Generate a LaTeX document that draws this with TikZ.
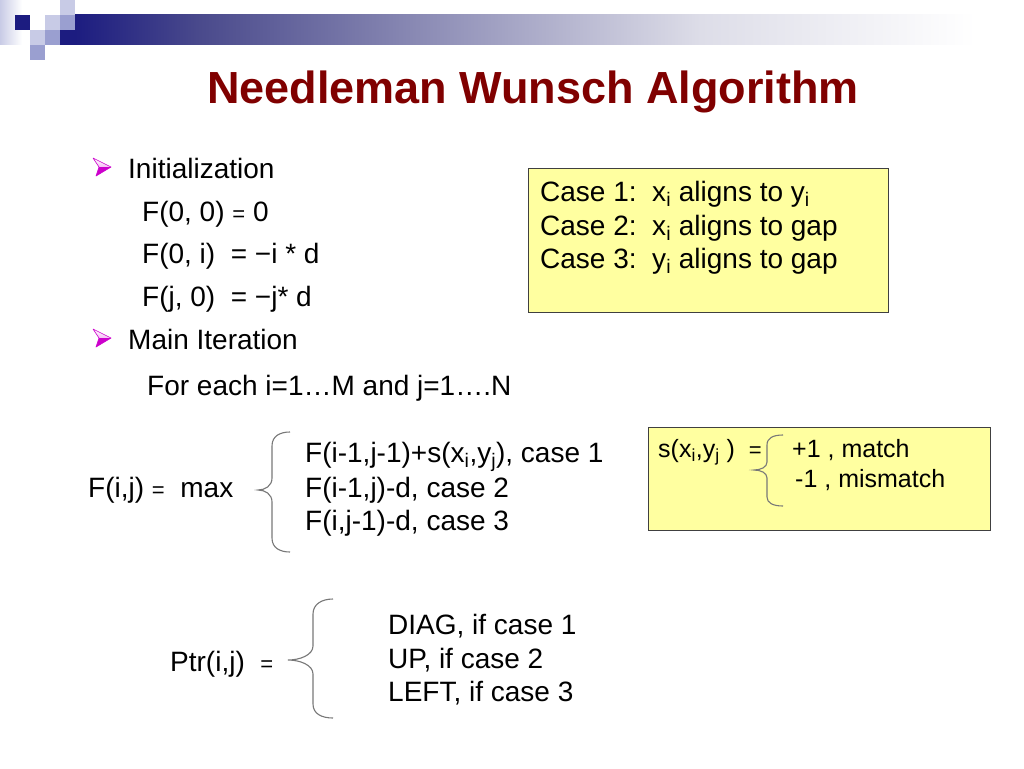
\documentclass[tikz,border=0pt]{standalone}
\usepackage{fontspec}
\setmainfont{Liberation Sans}
\definecolor{navy}{RGB}{28,28,128}
\definecolor{navymid}{RGB}{74,74,140}
\definecolor{navylight}{RGB}{221,221,232}
\definecolor{lavA}{RGB}{200,203,230}
\definecolor{lavB}{RGB}{154,159,208}
\definecolor{titlered}{RGB}{128,0,0}
\definecolor{boxyellow}{RGB}{255,255,160}
\definecolor{boxline}{RGB}{64,64,64}
\definecolor{magdark}{RGB}{204,0,204}
\definecolor{maglight}{RGB}{245,190,245}
\definecolor{bracegray}{RGB}{120,120,120}
\newcommand\smeq{{\fontsize{22}{26}\selectfont =}}
\newcommand\bularrow[1]{%
  \begin{scope}[shift={#1}]
    \shade[top color=white,bottom color=maglight] (0,0) -- (18,9) -- (6,9) -- cycle;
    \fill[magdark] (6,9) -- (18,9) -- (3,18) -- cycle;
    \draw[magdark,line width=0.6pt,line join=round] (0,0) -- (18,9) -- (3,18) -- (6,9) -- cycle;
  \end{scope}}
\begin{document}
\begin{tikzpicture}[x=1pt,y=-1pt,
  txt/.style={anchor=base west,inner sep=0pt,font=\fontsize{28}{34}\selectfont},
  smalltxt/.style={anchor=base west,inner sep=0pt,font=\fontsize{25}{30}\selectfont},
  titletxt/.style={anchor=base,inner sep=0pt,text=titlered,font=\fontsize{45}{54}\selectfont\bfseries},
  yellowbox/.style={draw=boxline,line width=1pt,fill=boxyellow},
  curly/.style={draw=bracegray,line width=1.1pt}]
\useasboundingbox (0,0) rectangle (1024,768);
\fill[white] (0,0) rectangle (1024,768);
% logo
\shade[left color=lavA,right color=white] (0,0) rectangle (22,45);
\fill[navy] (15,15) rectangle (30,30);
\fill[lavA] (45,15) rectangle (60,30);
\fill[lavB] (60,15) rectangle (75,30);
\fill[lavA] (60,0) rectangle (75,15);
\fill[lavA] (30,30) rectangle (45,45);
\fill[lavB] (45,30) rectangle (60,45);
\fill[lavB] (30,45) rectangle (45,60);
\fill[navy] (60,30) rectangle (75,45);
\shade[left color=navy,right color=navymid] (75,15) rectangle (200,45);
\shade[left color=navymid,right color=navylight] (200,15) rectangle (700,45);
\shade[left color=navylight,right color=white] (700,15) rectangle (975,45);
% title
\node[titletxt] (title) at (533,103) {Needleman Wunsch Algorithm};
% bullets
\bularrow{(93,158)}
\bularrow{(93,329)}
\node[txt] (init) at (128,178) {Initialization};
\node[txt] (f00) at (142,221) {F(0, 0) \smeq{} 0};
\node[txt] (f0i) at (142,263) {F(0, i)\ \ = −i * d};
\node[txt] (fj0) at (142,306) {F(j, 0)\ \ = −j* d};
\node[txt] (main) at (128,349) {Main Iteration};
\node[txt] (foreach) at (147,395) {For each i=1…M and j=1….N};
% cases box
\draw[yellowbox] (528,168) rectangle (888,312);
\node[txt] (c1) at (540,201) {Case 1:\ \ x\textsubscript{i} aligns to y\textsubscript{i}};
\node[txt] (c2) at (540,235) {Case 2:\ \ x\textsubscript{i} aligns to gap};
\node[txt] (c3) at (540,268) {Case 3:\ \ y\textsubscript{i} aligns to gap};
% score box
\draw[yellowbox] (648,427) rectangle (990,530);
\node[smalltxt] (sdef) at (658,457) {s(x\textsubscript{i},y\textsubscript{j} )\ \ \smeq};
\node[smalltxt] (match) at (792,457) {+1 , match};
\node[smalltxt] (mism) at (795,487) {-1 , mismatch};
\draw[curly] (783,435) .. controls (773,435) and (767,438) .. (767,445) -- (767,462)
  .. controls (767,467) and (761,470) .. (754,470)
  .. controls (761,470) and (767,473) .. (767,478) -- (767,497)
  .. controls (767,503) and (773,506) .. (783,506);
% recurrence
\node[txt] (fij) at (88,497) {F(i,j) \smeq\ \ max};
\node[txt] (r1) at (305,462) {F(i-1,j-1)+s(x\textsubscript{i},y\textsubscript{j}), case 1};
\node[txt] (r2) at (305,497) {F(i-1,j)-d, case 2};
\node[txt] (r3) at (305,530) {F(i,j-1)-d, case 3};
\draw[curly] (290,432) .. controls (280,432) and (272,436) .. (272,446) -- (272,478)
  .. controls (272,486) and (265,490) .. (258,490)
  .. controls (265,490) and (272,494) .. (272,502) -- (272,538)
  .. controls (272,548) and (280,552) .. (290,552);
% pointer
\node[txt] (ptr) at (170,671) {Ptr(i,j)\ \ \smeq};
\node[txt] (p1) at (388,634) {DIAG, if case 1};
\node[txt] (p2) at (388,668) {UP, if case 2};
\node[txt] (p3) at (388,701) {LEFT, if case 3};
\draw[curly] (333,599) .. controls (322,599) and (313,604) .. (313,614) -- (313,646)
  .. controls (313,655) and (300,660) .. (288,660)
  .. controls (300,660) and (313,665) .. (313,674) -- (313,704)
  .. controls (313,714) and (322,718) .. (333,718);
\end{tikzpicture}
\end{document}
